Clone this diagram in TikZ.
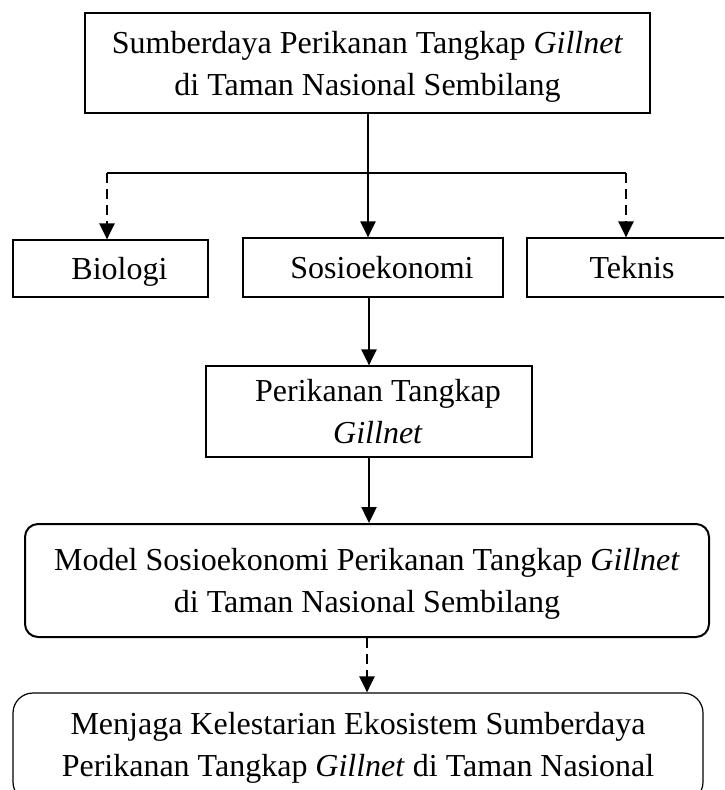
\documentclass[tikz,border=0pt]{standalone}
\usepackage{fontspec}
\setmainfont{Liberation Serif}
\usetikzlibrary{arrows.meta}
\begin{document}
\begin{tikzpicture}[x=1pt,y=-1pt,
  kotak/.style={draw,line width=1.2pt,align=center,inner sep=0pt,font=\fontsize{32}{42}\selectfont},
  bulat/.style={kotak,rounded corners=13pt},
  panah/.style={line width=2.4pt,-{Triangle[length=16pt,width=15pt]}},
  putus/.style={panah,dash pattern=on 10pt off 6pt}]

\clip (0,0) rectangle (724,790);

% sumberdaya
\node[kotak,minimum width=565pt,minimum height=100pt,text depth=0pt] (sumber) at (367.5,63)
  {Sumberdaya Perikanan Tangkap \textit{Gillnet}\\di Taman Nasional Sembilang};

% tiga aspek
\node[kotak,minimum width=195pt,minimum height=57pt,text depth=-1pt] (bio) at (110.5,268.5) {\hspace*{18pt}Biologi};
\node[kotak,minimum width=260pt,minimum height=59pt] (sosio) at (373,267.5) {\hspace*{18pt}Sosioekonomi};
\node[kotak,minimum width=210pt,minimum height=59pt] (teknis) at (632,267.5) {Teknis};

% perikanan tangkap
\node[kotak,minimum width=326pt,minimum height=91pt] (perikanan) at (369,411.5)
  {\hspace*{18pt}Perikanan Tangkap\\\hspace*{18pt}\textit{Gillnet}};

% model
\node[bulat,line width=2pt,minimum width=684pt,minimum height=113pt,text depth=-5pt] (model) at (367,580.5)
  {Model Sosioekonomi Perikanan Tangkap \textit{Gillnet}\\di Taman Nasional Sembilang};

% kelestarian
\node[bulat,rounded corners=20pt,minimum width=690pt,minimum height=109pt] (menjaga) at (358,747.5)
  {Menjaga Kelestarian Ekosistem Sumberdaya\\Perikanan Tangkap \textit{Gillnet} di Taman Nasional};

% cabang
\coordinate (cabang) at (368,173);
\coordinate (kiri) at (107,173);
\coordinate (kanan) at (626,173);
\draw[line width=2.2pt] (sumber.south -| cabang) -- (cabang);
\draw[line width=1.4pt] (kiri) -- (kanan);
\draw[putus] (kiri) -- (kiri |- bio.north);
\draw[panah] (cabang) -- (cabang |- sosio.north);
\draw[putus] (kanan) -- (kanan |- teknis.north);

% alur bawah
\draw[panah] (sosio.south -| perikanan.north) -- (perikanan.north);
\draw[panah] (perikanan.south) -- (perikanan.south |- model.north);
\draw[putus] (model.south) -- (model.south |- menjaga.north);

\end{tikzpicture}
\end{document}
